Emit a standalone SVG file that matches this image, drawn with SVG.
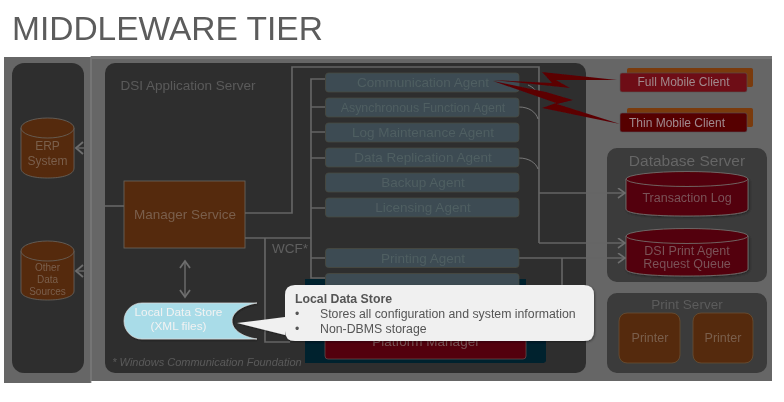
<svg xmlns="http://www.w3.org/2000/svg" width="784" height="402" viewBox="0 0 784 402">
<defs>
<style>
text{font-family:"Liberation Sans",Arial,sans-serif;text-anchor:middle}
.panel{fill:#2f2f2f}
.panel2{fill:#3a3a3a}
.agent{fill:#3c4c52;stroke:#4a4a40;stroke-width:.7}
.agentT{fill:#505e62;font-size:13.5px}
.conn{fill:none;stroke:#666;stroke-width:1.6}
.thin{fill:none;stroke:#8a8a8a;stroke-width:.8}
.brown{fill:#552a0e;stroke:#6a6660;stroke-width:.8}
.brownT{fill:#7a5f4c}
.red{fill:#520409;stroke:#777;stroke-width:.8}
.redT{fill:#7a5258;font-size:12.5px}
.head{fill:none;stroke:#6e6e6e;stroke-width:1.8}
.bolt{fill:#5c0006}
.cb{font-size:12.3px;fill:#555;text-anchor:start}
</style>
<marker id="arr" markerWidth="12" markerHeight="12" refX="9" refY="5" orient="auto" markerUnits="userSpaceOnUse"><path d="M2 0L9 5L2 10" fill="none" stroke="#6e6e6e" stroke-width="1.6"/></marker>
<filter id="soft" x="-2%" y="-2%" width="104%" height="104%"><feGaussianBlur stdDeviation="0.55"/></filter>
<filter id="sh" x="-10%" y="-10%" width="120%" height="120%"><feDropShadow dx="1" dy="1" stdDeviation="1.2" flood-color="#000" flood-opacity=".4"/></filter>
</defs>
<rect width="784" height="402" fill="#fff"/>
<g filter="url(#soft)">
<text id="title" x="12" y="40" style="text-anchor:start;font-size:33.5px" fill="#5c5c5c">MIDDLEWARE TIER</text>
<rect x="4" y="57" width="87" height="326" fill="#666"/>
<rect x="91" y="56" width="681" height="325" fill="#666"/>
<line x1="91" y1="56" x2="91" y2="383" stroke="#8a8a8a" stroke-width=".8"/>
<rect x="91" y="56" width="681" height="3" fill="#777"/>
<rect x="12" y="63" width="72" height="310" rx="12" class="panel"/>
<rect x="105" y="63" width="481" height="310" rx="10" class="panel"/>
<rect x="607" y="148" width="160" height="134" rx="10" class="panel2"/>
<rect x="607" y="293" width="160" height="80" rx="10" class="panel2"/>
<text x="188" y="90" fill="#5a5a5a" font-size="13.5">DSI Application Server</text>
<text x="687" y="166" fill="#666" font-size="15.5">Database Server</text>
<text x="687" y="309" fill="#5c5c5c" font-size="13.5">Print Server</text>
<text x="207" y="366" fill="#5a5a5a" font-size="11" font-style="italic">* Windows Communication Foundation</text>
<text x="290" y="253" fill="#5f5f5f" font-size="13.5">WCF*</text>

<g id="connectors">
<path class="conn" d="M245 213H292V67H539V243"/>
<path class="conn" d="M539 193H625" marker-end="url(#arr)"/>
<path class="conn" d="M539 243H625" marker-end="url(#arr)"/>
<path class="conn" d="M519 258H625" marker-end="url(#arr)"/>
<path class="conn" d="M562 258V290"/>
<path class="conn" d="M105 206H124"/>
<path class="conn" d="M245 238H311"/>
<path class="conn" d="M265 238V342H290"/>
<path class="conn" d="M325 79H311V278H325"/>
<path class="conn" d="M311 107H325M311 132H325M311 158H325M311 208H325M311 258H325"/>
<path class="thin" d="M528 85C533 87 537 91 538 95"/>
<path class="thin" d="M519 107C529 107 536 112 538 119"/>
<path class="thin" d="M519 158C529 158 536 163 538 169"/>
<path class="conn" d="M185 262V296" stroke-width="1.4"/>
<path class="head" d="M180 268L185 261L190 268M180 290L185 297L190 290"/>
<path class="head" d="M83 142L76 148L83 154"/>
<path class="head" d="M83 265L76 271L83 277"/>
<path class="conn" d="M77 148H84M77 271H84"/>
</g>

<g id="erp-system">
<path class="brown" d="M21 128V168C21 175 33 178 47.500 178S74 175 74 168V128Z"/>
<ellipse class="brown" cx="47.500" cy="128" rx="26.500" ry="10"/>
<text class="brownT" x="47.500" y="150" font-size="12">ERP</text>
<text class="brownT" x="47.500" y="165" font-size="12">System</text>
</g>
<g id="other-data-sources">
<path class="brown" d="M21 251V291C21 297 33 300 47.500 300S74 297 74 291V251Z"/>
<ellipse class="brown" cx="47.500" cy="251" rx="26.500" ry="10"/>
<text class="brownT" x="47.500" y="271" font-size="10">Other</text>
<text class="brownT" x="47.500" y="283" font-size="10">Data</text>
<text class="brownT" x="47.500" y="295" font-size="10">Sources</text>
</g>
<g id="manager-service">
<rect class="brown" x="124" y="181" width="121" height="67"/>
<text class="brownT" x="185" y="219" font-size="13.500">Manager Service</text>
</g>
<g id="agents">
<g id="communication-agent"><rect class="agent" x="325.500" y="73" width="193.500" height="19" rx="3"/><text class="agentT" x="423" y="87">Communication Agent</text></g>
<g id="async-agent"><rect class="agent" x="325.500" y="98" width="193.500" height="19" rx="3"/><text class="agentT" x="423" y="112" style="font-size:12.400px">Asynchronous Function Agent</text></g>
<g id="log-agent"><rect class="agent" x="325.500" y="123" width="193.500" height="19" rx="3"/><text class="agentT" x="423" y="137">Log Maintenance Agent</text></g>
<g id="replication-agent"><rect class="agent" x="325.500" y="148" width="193.500" height="19" rx="3"/><text class="agentT" x="423" y="162">Data Replication Agent</text></g>
<g id="backup-agent"><rect class="agent" x="325.500" y="173" width="193.500" height="19" rx="3"/><text class="agentT" x="423" y="187">Backup Agent</text></g>
<g id="licensing-agent"><rect class="agent" x="325.500" y="198" width="193.500" height="19" rx="3"/><text class="agentT" x="423" y="212">Licensing Agent</text></g>
<g id="printing-agent"><rect class="agent" x="325.500" y="248.500" width="193.500" height="19" rx="3"/><text class="agentT" x="423" y="263">Printing Agent</text></g>
</g>
<g id="platform-manager">
<path d="M305 363V279H526V300H546V360Q546 363 543 363Z" fill="#02202e"/>
<rect class="agent" x="325.500" y="273.500" width="193.500" height="19" rx="3"/>
<rect x="325" y="320" width="201" height="39" rx="3" fill="#520409" stroke="#6a5050" stroke-width=".7"/>
<text x="426" y="346" fill="#7a5258" font-size="13.500">Platform Manager</text>
</g>
<g id="bolts">
<path class="bolt" d="M493 80L552 83L542 72L617 80L556 80L570 88Z"/>
<path class="bolt" d="M493 81L546 92L573 100L557 104L620 124L542 108L556 103Z"/>
</g>
<g id="full-mobile-client">
<rect x="627" y="68" width="126" height="19" rx="2" fill="#7a3a0c"/>
<rect x="620" y="73" width="127" height="19" rx="2" fill="#6e0b16" stroke="#555" stroke-width=".6"/>
<text x="683.500" y="86" fill="#a08a8c" font-size="12">Full Mobile Client</text>
</g>
<g id="thin-mobile-client">
<rect x="627" y="108" width="126" height="19" rx="2" fill="#7a3a0c"/>
<rect x="620" y="113" width="127" height="19" rx="2" fill="#560006" stroke="#555" stroke-width=".6"/>
<text x="677" y="127" fill="#a08a8c" font-size="12">Thin Mobile Client</text>
</g>
<g id="transaction-log">
<path class="red" d="M626 179V209C626 214 653 216 687 216S748 214 748 209V179Z" filter="url(#sh)"/>
<ellipse class="red" cx="687" cy="179" rx="61" ry="7.500"/>
<text class="redT" x="687" y="202">Transaction Log</text>
</g>
<g id="print-queue">
<path class="red" d="M626 236V269C626 274 653 276 687 276S748 274 748 269V236Z" filter="url(#sh)"/>
<ellipse class="red" cx="687" cy="236" rx="61" ry="7.500"/>
<text class="redT" x="687" y="255">DSI Print Agent</text>
<text class="redT" x="687" y="268">Request Queue</text>
</g>
<g id="printer-1">
<rect class="brown" x="619" y="313" width="61" height="50" rx="8" style="stroke:#6b5033"/>
<text class="brownT" x="650" y="342" font-size="12.500">Printer</text>
</g>
<g id="printer-2">
<rect class="brown" x="693" y="313" width="60" height="50" rx="8" style="stroke:#6b5033"/>
<text class="brownT" x="723" y="342" font-size="12.500">Printer</text>
</g>
<g id="local-data-store">
<path d="M142 303H257C243 305 232 312 232 321S243 337 257 339H142C132 339 124 331 124 321S132 303 142 303Z" fill="#a9dce8" stroke="#ddd" stroke-width=".7" filter="url(#sh)"/>
<text x="178.500" y="316" fill="#f2f2f2" font-size="11.800">Local Data Store</text>
<text x="178.500" y="330" fill="#f2f2f2" font-size="11.800">(XML files)</text>
</g>
<g id="callout">
<path d="M295 285H584Q594 285 594 295V331Q594 341 584 341H295Q285 341 285 331V335L237 323L285 317V295Q285 285 295 285Z" fill="#f0f0f0" filter="url(#sh)"/>
<text class="cb" x="295" y="303" font-weight="bold">Local Data Store</text>
<text class="cb" x="295" y="318">•</text>
<text class="cb" x="320" y="318">Stores all configuration and system information</text>
<text class="cb" x="295" y="333">•</text>
<text class="cb" x="320" y="333">Non-DBMS storage</text>
</g>
</g>
</svg>
